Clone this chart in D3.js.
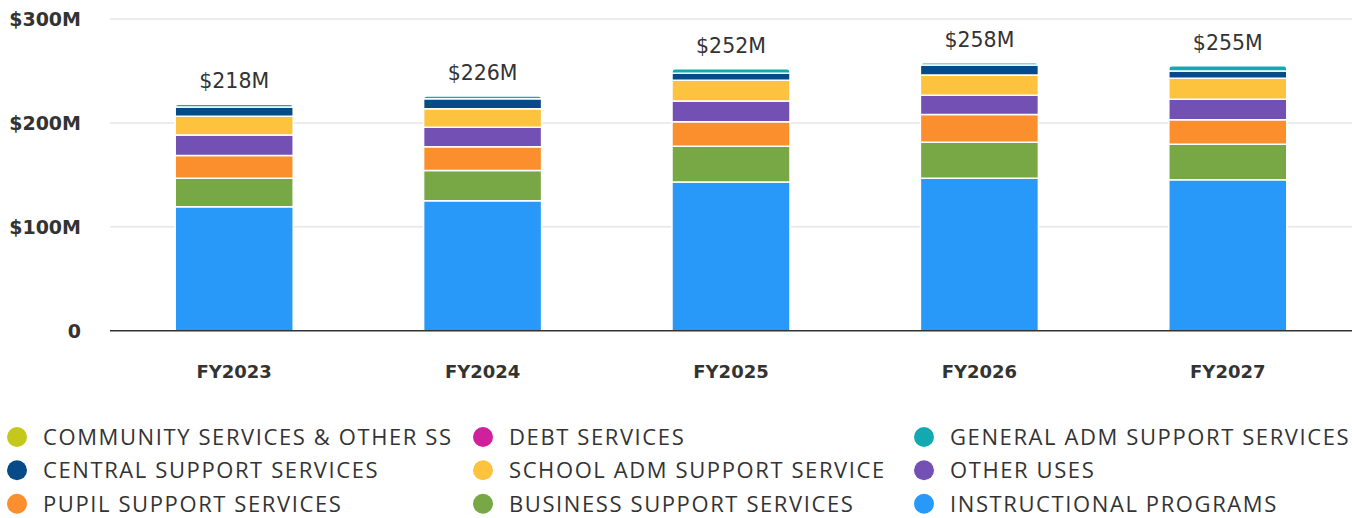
<!DOCTYPE html>
<html>
<head>
<meta charset="utf-8">
<script src="https://cdn.jsdelivr.net/npm/d3@7"></script>
<style>
  html, body { margin: 0; padding: 0; background: #fff; }
  svg { display: block; }
  text { font-family: "DejaVu Sans", sans-serif; }
  .legend-label { font-family: "Open Sans", "Noto Sans", sans-serif; }
</style>
</head>
<body>
<svg id="chart" width="1352" height="518"></svg>
<script>
// Fiscal years shown on the x axis
const years = ["FY2023", "FY2024", "FY2025", "FY2026", "FY2027"];

// Spending by function, $M per fiscal year
const instructionalPrograms   = [119.4, 125.0, 143.2, 146.7, 145.2];
const businessSupport         = [27.3, 29.2, 34.4, 34.7, 34.2];
const pupilSupport            = [21.9, 22.8, 23.6, 26.8, 23.7];
const otherUses               = [19.8, 18.7, 19.8, 18.3, 19.6];
const schoolAdmSupport        = [17.9, 18.0, 20.0, 19.6, 20.3];
const centralSupport          = [9.1, 9.5, 6.8, 9.6, 7.0];
const generalAdmSupport       = [2.6, 2.8, 4.2, 2.3, 5.0];
const debtServices            = [0, 0, 0, 0, 0];
const communityServices       = [0, 0, 0, 0, 0];

// Total labels above each bar
const totalLabels = ["$218M", "$226M", "$252M", "$258M", "$255M"];

// Y axis ticks
const yTicks = [0, 100, 200, 300];
const yTickLabels = ["0", "$100M", "$200M", "$300M"];

// Series, bottom of stack first
const series = [
  { name: "INSTRUCTIONAL PROGRAMS",       values: instructionalPrograms, color: "#2899f9" },
  { name: "BUSINESS SUPPORT SERVICES",    values: businessSupport,       color: "#77a845" },
  { name: "PUPIL SUPPORT SERVICES",       values: pupilSupport,          color: "#fb8e2d" },
  { name: "OTHER USES",                   values: otherUses,             color: "#7350b4" },
  { name: "SCHOOL ADM SUPPORT SERVICE",   values: schoolAdmSupport,      color: "#fdc23e" },
  { name: "CENTRAL SUPPORT SERVICES",     values: centralSupport,        color: "#064a87" },
  { name: "GENERAL ADM SUPPORT SERVICES", values: generalAdmSupport,     color: "#13a9b0" },
  { name: "DEBT SERVICES",                values: debtServices,          color: "#d0209c" },
  { name: "COMMUNITY SERVICES & OTHER SS",values: communityServices,     color: "#c5c81c" }
];

// Legend order (row by row, three columns)
const legendOrder = [
  "COMMUNITY SERVICES & OTHER SS", "DEBT SERVICES", "GENERAL ADM SUPPORT SERVICES",
  "CENTRAL SUPPORT SERVICES", "SCHOOL ADM SUPPORT SERVICE", "OTHER USES",
  "PUPIL SUPPORT SERVICES", "BUSINESS SUPPORT SERVICES", "INSTRUCTIONAL PROGRAMS"
];

const svg = d3.select("#chart");
const plot = { left: 110, right: 1352, top: 19, bottom: 330.7 };

const x = d3.scaleBand().domain(years).range([plot.left, plot.right]).paddingInner(0.525).paddingOuter(0.2625);
const y = d3.scaleLinear().domain([0, 300]).range([plot.bottom, plot.top]);

// Gridlines
svg.append("g").selectAll("line").data(yTicks.filter(d => d > 0)).join("line")
  .attr("x1", plot.left).attr("x2", plot.right)
  .attr("y1", d => y(d)).attr("y2", d => y(d))
  .attr("stroke", "#e6e6e6").attr("stroke-width", 1.5);

// Stacked data
const table = years.map((yr, i) => {
  const row = { year: yr };
  series.forEach(s => row[s.name] = s.values[i]);
  return row;
});
const stack = d3.stack().keys(series.map(s => s.name))(table);
const colorOf = Object.fromEntries(series.map(s => [s.name, s.color]));

// Topmost non-empty segment per bar gets rounded top corners
const topKey = years.map((yr, i) => {
  let k = null;
  series.forEach(s => { if (s.values[i] > 0) k = s.name; });
  return k;
});

function segPath(x0, x1, y0, y1, r) {
  if (r <= 0) return `M${x0},${y0}H${x1}V${y1}H${x0}Z`;
  return `M${x0},${y0}V${y1 + r}Q${x0},${y1} ${x0 + r},${y1}H${x1 - r}Q${x1},${y1} ${x1},${y1 + r}V${y0}Z`;
}

const bars = svg.append("g");
stack.forEach(layer => {
  bars.append("g").selectAll("path").data(layer.map((d, i) => ({ d, i }))).join("path")
    .filter(o => o.d[1] - o.d[0] > 0)
    .attr("d", o => {
      const x0 = x(years[o.i]), x1 = x0 + x.bandwidth();
      const r = topKey[o.i] === layer.key ? 3 : 0;
      return segPath(x0, x1, y(o.d[0]), y(o.d[1]), r);
    })
    .attr("fill", colorOf[layer.key])
    .attr("stroke", "#fff").attr("stroke-width", 1.5);
});

// Baseline
svg.append("line").attr("x1", plot.left).attr("x2", plot.right)
  .attr("y1", y(0)).attr("y2", y(0)).attr("stroke", "#333").attr("stroke-width", 1.5);

// Totals
const totals = years.map((yr, i) => d3.sum(series, s => s.values[i]));
svg.append("g").selectAll("text").data(years).join("text")
  .attr("x", d => x(d) + x.bandwidth() / 2)
  .attr("y", (d, i) => y(totals[i]) - 16)
  .attr("text-anchor", "middle")
  .attr("font-size", 20.5).attr("fill", "#333")
  .text((d, i) => totalLabels[i]);

// Y axis labels
svg.append("g").selectAll("text").data(yTicks).join("text")
  .attr("x", 81).attr("y", d => y(d)).attr("dy", "0.36em")
  .attr("text-anchor", "end")
  .attr("font-size", 19).attr("font-weight", 700).attr("fill", "#333")
  .text((d, i) => yTickLabels[i]);

// X axis labels
svg.append("g").selectAll("text").data(years).join("text")
  .attr("x", d => x(d) + x.bandwidth() / 2)
  .attr("y", 378)
  .attr("text-anchor", "middle")
  .attr("font-size", 18).attr("font-weight", 700).attr("fill", "#333")
  .text(d => d);

// Legend
const colX = [17, 483, 924];
const rowY = [437, 470.3, 503.7];
const legend = svg.append("g").selectAll("g").data(legendOrder).join("g")
  .attr("transform", (d, i) => `translate(${colX[i % 3]},${rowY[Math.floor(i / 3)]})`);
legend.append("circle").attr("r", 10).attr("fill", d => colorOf[d]);
legend.append("text").attr("class", "legend-label").attr("x", 26).attr("dy", "0.36em")
  .attr("font-size", 22).attr("letter-spacing", 1.6).attr("fill", "#333")
  .text(d => d);
</script>
</body>
</html>
